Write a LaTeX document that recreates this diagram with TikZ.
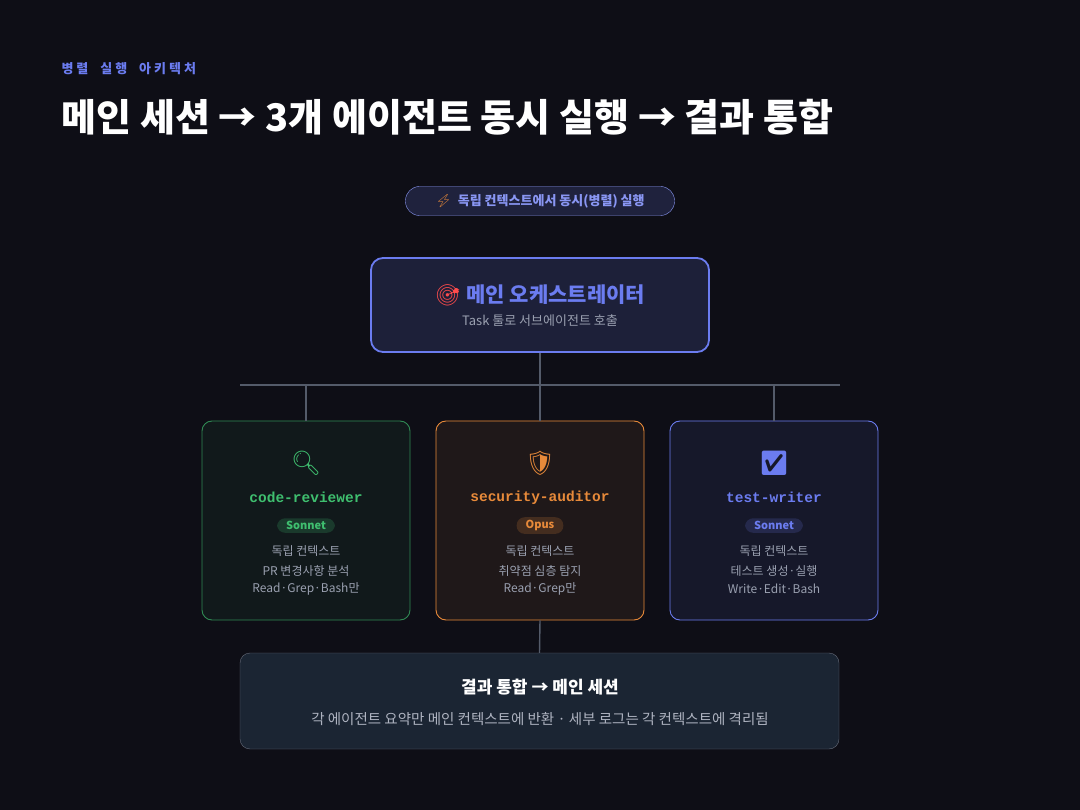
\documentclass[tikz,border=0pt]{standalone}
\usepackage{fontspec}
\setmainfont{Noto Sans CJK KR}
\newfontfamily\codefont{Liberation Mono}
\newfontfamily\emoji{Noto Emoji}
\usetikzlibrary{positioning}
\definecolor{bg}{HTML}{0E0E16}
\definecolor{accent}{HTML}{6B7CF0}
\definecolor{mute}{HTML}{9AA0B0}
\definecolor{wire}{HTML}{545B6A}
\definecolor{grn}{HTML}{3FBF6F}
\definecolor{org}{HTML}{E88A3A}
\definecolor{blu}{HTML}{6B7CF0}
\definecolor{resbg}{HTML}{1B2533}
\newcommand{\fs}[1]{\fontsize{#1}{#1}\selectfont}
\tikzset{
  card/.style={draw=#1, line width=0.9pt, rounded corners=10pt, minimum width=208pt, minimum height=199pt},
  badge/.style={fill=#1!25!bg, text=#1, rounded corners=8pt, font=\fs{11}\bfseries, inner xsep=9pt, inner ysep=3pt},
  info/.style={text=mute, font=\fs{12}, align=center},
  wireline/.style={wire, line width=1.4pt}
}
\begin{document}
\begin{tikzpicture}[x=1pt,y=-1pt]
\fill[bg] (0,0) rectangle (1080,810);
\useasboundingbox (0,0) rectangle (1080,810);

\node[anchor=west, text=accent, font=\fs{13}\bfseries] (kicker) at (58,69) {병\kern3pt 렬\ \ \ \ 실\kern3pt 행\ \ \ \ 아\kern3pt 키\kern3pt 텍\kern3pt 처};
\node[anchor=west, text=white, font=\fs{38}\bfseries] (title) at (58,117) {메인 세션 → 3개 에이전트 동시 실행 → 결과 통합};

\node[draw=accent!80, fill=accent!18!bg, rounded corners=14pt, minimum width=269pt, minimum height=29pt,
  text=accent!80!white, font=\fs{13}\bfseries] (pill) at (540,201) {{\emoji\color{org}⚡}\ \ 독립 컨텍스트에서 동시(병렬) 실행};

% main orchestrator
\node[draw=accent, line width=1.8pt, fill=accent!16!bg, rounded corners=12pt, minimum width=338pt, minimum height=94pt] (main) at (540,305) {};
\node[text=accent, font=\fs{21}\bfseries] (maintitle) at (540,295) {{\emoji\color{red!70!white}🎯}\ 메인 오케스트레이터};
\node[text=mute, font=\fs{13}] (mainsub) at (540,321) {Task 툴로 서브에이전트 호출};

% cards
\node[card=grn!70!bg, fill=grn!6!bg] (rev) at (306,520.5) {};
\node[card=org, fill=org!8!bg] (sec) at (540,520.5) {};
\node[card=blu, fill=blu!9!bg] (tst) at (774,520.5) {};

\foreach \c/\col/\ico/\name/\model/\la/\lb in {
  rev/grn/🔍/code-reviewer/Sonnet/PR 변경사항 분석/Read·Grep·Bash만,
  sec/org/🛡/security-auditor/Opus/취약점 심층 탐지/Read·Grep만,
  tst/blu/✅/test-writer/Sonnet/테스트 생성·실행/Write·Edit·Bash} {
  \node[text=\col, font=\fs{24}\emoji] (\c-icon) at ([yshift=-43pt]\c.north) {\ico};
  \node[text=\col, font=\fs{14.5}\codefont\bfseries] (\c-name) at ([yshift=-77pt]\c.north) {\name};
  \node[badge=\col] (\c-model) at ([yshift=-105pt]\c.north) {\model};
  \node[info] (\c-a) at ([yshift=-131pt]\c.north) {독립 컨텍스트};
  \node[info] (\c-b) at ([yshift=-150pt]\c.north) {\la};
  \node[info] (\c-c) at ([yshift=-168pt]\c.north) {\lb};
}

% bus
\coordinate (busL) at (240,385);
\coordinate (busR) at (840,385);
\draw[wireline] (busL) -- (busR);
\draw[wireline] (main.south) -- (main.south |- busL);
\foreach \c in {rev,sec,tst} \draw[wireline] (\c.north |- busL) -- (\c.north);

% result
\node[draw=wire!90, fill=resbg, rounded corners=10pt, minimum width=599pt, minimum height=96pt] (res) at (539.5,701) {};
\draw[wireline] (sec.south) -- (res.north);
\node[text=white, font=\fs{17}\bfseries] (restitle) at (540,687) {결과 통합 → 메인 세션};
\node[text=mute!80!white, font=\fs{14.5}] (ressub) at (540,719) {각 에이전트 요약만 메인 컨텍스트에 반환 · 세부 로그는 각 컨텍스트에 격리됨};
\end{tikzpicture}
\end{document}
